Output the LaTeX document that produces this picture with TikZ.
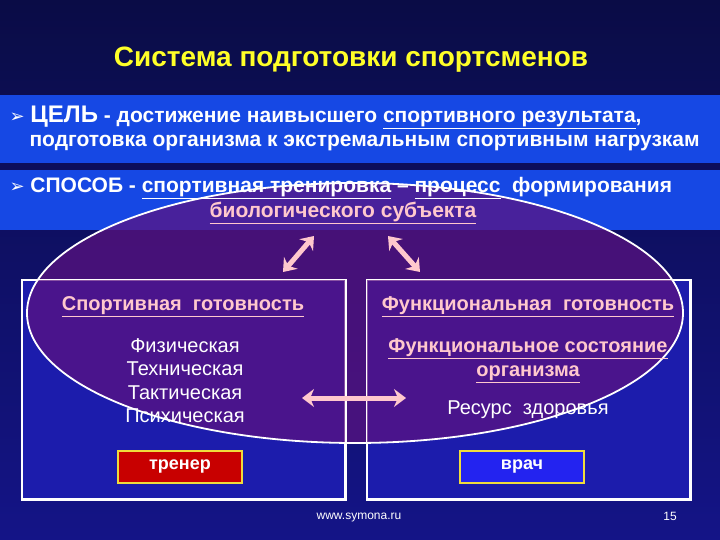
\documentclass[tikz,border=0pt]{standalone}
\usepackage{fontspec}
\setmainfont{Liberation Sans}
\newfontfamily\symfont{DejaVu Sans}
\usetikzlibrary{arrows.meta,positioning}
\definecolor{bgtop}{RGB}{10,12,70}
\definecolor{bgbottom}{RGB}{20,20,135}
\definecolor{bandblue}{RGB}{22,72,228}
\definecolor{boxblue}{RGB}{28,28,172}
\definecolor{ovalpurple}{RGB}{92,18,128}
\definecolor{linkpink}{RGB}{255,200,205}
\definecolor{titleyellow}{RGB}{255,255,40}
\definecolor{btnred}{RGB}{200,0,0}
\definecolor{btnblue}{RGB}{35,35,240}
\definecolor{btnframe}{RGB}{240,220,60}

\tikzset{
  panel/.style={draw=white, line width=1.5pt, fill=boxblue, minimum width=323pt, minimum height=219pt},
  rowtext/.style={anchor=west, text=white, font=\bfseries\fontsize{21}{24}\selectfont},
  head/.style={text=linkpink, font=\bfseries\fontsize{20}{23}\selectfont},
  item/.style={text=white, font=\fontsize{20}{23}\selectfont},
  btn/.style={draw=btnframe, line width=1.5pt, minimum width=124pt, minimum height=32pt, text=white, font=\bfseries\fontsize{18}{21}\selectfont},
  twoway/.style={{Stealth[length=12pt,width=18pt]}-{Stealth[length=12pt,width=18pt]}, line width=5pt, linkpink}
}

\begin{document}
\begin{tikzpicture}[x=1pt,y=-1pt]
% background and bands
\shade[top color=bgtop, bottom color=bgbottom] (0,0) rectangle (720,540);
\useasboundingbox (0,0) rectangle (720,540);
\fill[bandblue] (0,95) rectangle (720,163);
\fill[bandblue] (0,170) rectangle (720,230);
% two panels
\node[panel] (sportbox) at (183.5,389.5) {};
\node[panel] (funcbox) at (528.5,389.5) {};
% oval over the panels
\fill[ovalpurple, opacity=0.72] (355,313) ellipse [x radius=328, y radius=130];
\draw[white, line width=1.5pt] (sportbox.north west) rectangle (sportbox.south east);
\draw[white, line width=1.5pt] (funcbox.north west) rectangle (funcbox.south east);
\draw[white, line width=1.8pt] (355,313) ellipse [x radius=328, y radius=130];
% title and rows
\node[font=\bfseries\fontsize{28}{32}\selectfont, titleyellow] (title) at (351,60) {Система подготовки спортсменов};
\node[rowtext] (goal) at (6,117) {{\symfont\fontsize{18}{20}\selectfont ➢} {\fontsize{24}{26}\selectfont ЦЕЛЬ} - достижение наивысшего \underline{спортивного результата},};
\node[rowtext] (goalb) at (26,143) {подготовка организма к экстремальным спортивным нагрузкам};
\node[rowtext] (way) at (6,188) {{\symfont\fontsize{18}{20}\selectfont ➢} СПОСОБ - \underline{спортивная тренировка} – \underline{процесс}\ \ формирования};
\node[rowtext, anchor=center, text=linkpink] (bio) at (343,213) {\underline{биологического субъекта}};
% left panel
\node[head] (sporthead) at (183,307) {\underline{Спортивная\ \ готовность}};
\foreach \t [count=\i] in {Физическая,Техническая,Тактическая,Психическая}
  \node[item] (kind\i) at (185,322+23.5*\i) {\t};
% right panel
\node[head] (funchead) at (528,307) {\underline{Функциональная\ \ готовность}};
\node[head, align=center] (state) at (528,361) {\underline{Функциональное состояние}\\[1pt]\underline{организма}};
\node[item] (health) at (528,410) {Ресурс\ \ здоровья};
% links
\coordinate (linkLa) at (314,236);
\coordinate (linkLb) at (283,272);
\coordinate (linkRa) at (388,236);
\coordinate (linkRb) at (420,272);
\coordinate (linkMa) at (302,398);
\coordinate (linkMb) at (406,398);
\draw[twoway] (linkLa) -- (linkLb);
\draw[twoway] (linkRa) -- (linkRb);
\draw[twoway] (linkMa) -- (linkMb);
% buttons
\node[btn, fill=btnred] (coach) at (180,467) {тренер};
\node[btn, fill=btnblue] (doctor) at (522,467) {врач};
% footer
\node[font=\fontsize{12}{14}\selectfont, white] (site) at (359,518) {www.symona.ru};
\node[font=\fontsize{12}{14}\selectfont, white] (page) at (670,516) {15};
\end{tikzpicture}
\end{document}
